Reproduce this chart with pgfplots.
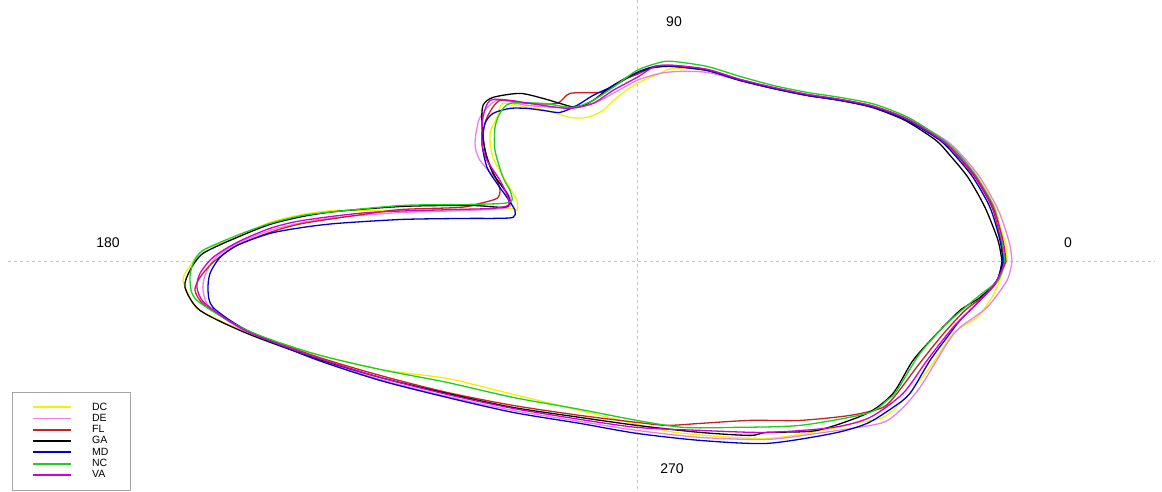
\documentclass[border=0pt]{standalone}
\usepackage{pgfplots}
\pgfplotsset{compat=1.18}
\usepackage{fontspec}
\setmainfont{Liberation Sans}
\definecolor{cDC}{RGB}{245,240,0}
\definecolor{cDE}{RGB}{230,130,230}
\definecolor{cFL}{RGB}{200,35,35}
\definecolor{cGA}{RGB}{0,0,0}
\definecolor{cMD}{RGB}{0,0,200}
\definecolor{cNC}{RGB}{30,205,30}
\definecolor{cVA}{RGB}{210,0,210}
\definecolor{gridgray}{RGB}{195,195,195}
\begin{document}
\begin{tikzpicture}
\begin{axis}[
  scale only axis, width=1162pt, height=491pt,
  xmin=0, xmax=1162, ymin=0, ymax=491, y dir=reverse,
  axis lines=none, clip=false,
  every axis plot/.append style={line width=1.3pt, smooth, tension=0.45},
  legend image code/.code={\draw[#1, line width=1.9pt] (0pt,0pt) -- (38pt,0pt);},
  legend cell align=left,
  legend style={at={(axis cs:12,490)}, anchor=south west, draw=gray!70,
    font=\fontsize{10.5}{10.5}\selectfont, inner xsep=20pt, inner ysep=9pt,
    row sep=-1.5pt, column sep=8pt,
    /tikz/every odd column/.style={column sep=18pt}},
]
\path (rel axis cs:0,0) rectangle (rel axis cs:1,1);
\draw[gridgray, dashed, dash pattern=on 3pt off 3pt, line width=0.8pt] (axis cs:8,261) -- (axis cs:1155,261);
\draw[gridgray, dashed, dash pattern=on 3pt off 3pt, line width=0.8pt] (axis cs:637,0) -- (axis cs:637,491);
\node[font=\fontsize{14}{14}\selectfont] at (axis cs:674,21) {90};
\node[font=\fontsize{14}{14}\selectfont] at (axis cs:672,468) {270};
\node[font=\fontsize{14}{14}\selectfont] at (axis cs:108,242) {180};
\node[font=\fontsize{14}{14}\selectfont] at (axis cs:1068,242) {0};

% DC
\addplot[cDC] coordinates {(1007,261)(1006,245)(1000,225)(995,207)(978,177)(960,155)(944,140)(910,119)(875,106)(840,99)(807,95)(773,88)(740,79)(707,70)(673,68)(660,73)(637,83)(617,97)(603,110)(587,117)(570,117)(547,110)(527,107)(503,103)(497,117)(490,133)(493,157)(507,183)(517,200)(517,210)(510,208)(460,209)(403,210)(337,210)(303,214)(270,222)(237,237)(203,250)(187,270)(183,280)(190,297)(200,310)(247,332)(313,353)(380,369)(447,378)(497,390)(530,398)(580,410)(637,424)(683,433)(767,438)(833,428)(853,423)(883,417)(903,400)(930,367)(953,333)(977,317)(990,300)(997,287)(1003,270)(1007,261)};
\addlegendentry{DC}
% DE
\addplot[cDE] coordinates {(1012,261)(1010,245)(1004,225)(997,207)(980,177)(962,155)(946,140)(911,120)(876,107)(840,100)(807,95)(773,88)(740,80)(707,72)(680,71)(660,73)(637,80)(613,93)(593,103)(560,107)(527,105)(497,100)(480,117)(475,143)(480,160)(500,183)(510,197)(508,207)(470,210)(403,212)(337,217)(303,222)(270,230)(237,243)(215,258)(205,275)(203,290)(210,307)(247,332)(313,357)(380,379)(447,396)(513,410)(580,421)(637,430)(700,437)(767,439)(817,433)(880,423)(900,410)(920,387)(947,343)(960,327)(987,307)(1007,280)(1012,261)};
\addlegendentry{DE}
% FL
\addplot[cFL] coordinates {(1004,261)(1001,240)(992,207)(975,177)(957,155)(942,140)(908,119)(874,106)(840,99)(807,94)(773,87)(740,79)(707,69)(673,65)(655,66)(637,74)(627,78)(610,88)(600,92)(570,93)(557,103)(527,103)(500,100)(487,117)(483,137)(488,160)(497,180)(500,190)(497,198)(480,203)(460,207)(403,209)(370,213)(303,223)(270,232)(237,245)(213,262)(200,277)(195,290)(205,305)(247,330)(313,355)(380,375)(447,392)(513,405)(580,415)(637,422)(667,425)(700,423)(750,420)(800,420)(850,415)(883,407)(897,393)(918,365)(942,335)(965,310)(985,295)(998,280)(1004,261)};
\addlegendentry{FL}
% GA
\addplot[cGA] coordinates {(1002,261)(998,240)(985,207)(968,177)(950,155)(936,140)(905,120)(872,107)(840,100)(807,95)(773,88)(740,80)(707,70)(673,66)(655,67)(643,70)(627,77)(610,87)(593,100)(577,107)(560,103)(543,98)(520,93)(493,97)(483,105)(482,123)(485,150)(493,173)(507,193)(510,203)(503,207)(470,205)(403,206)(337,211)(303,216)(270,224)(237,237)(203,253)(190,270)(185,287)(200,310)(247,333)(313,357)(380,377)(447,393)(513,407)(580,417)(637,425)(700,432)(750,435)(767,432)(817,430)(867,413)(893,393)(913,360)(937,333)(960,310)(980,297)(997,280)(1002,261)};
\addlegendentry{GA}
% MD
\addplot[cMD] coordinates {(1003,261)(1000,240)(990,207)(973,177)(955,155)(940,140)(907,120)(873,107)(840,100)(807,95)(773,88)(740,80)(707,70)(673,66)(655,66)(637,72)(610,87)(593,95)(577,105)(560,112)(543,110)(527,108)(510,108)(493,113)(485,123)(482,143)(487,167)(497,183)(507,197)(515,210)(513,217)(493,218)(470,218)(403,219)(337,223)(303,227)(270,233)(237,245)(220,257)(210,273)(208,290)(213,307)(247,330)(313,358)(380,380)(447,397)(513,412)(580,423)(637,433)(700,440)(767,443)(833,433)(867,423)(893,407)(910,393)(930,360)(947,337)(960,320)(980,300)(997,280)(1003,261)};
\addlegendentry{MD}
% NC
\addplot[cNC] coordinates {(1005,261)(1002,240)(994,207)(977,177)(960,155)(944,140)(910,118)(875,104)(840,97)(807,92)(773,85)(740,76)(707,66)(673,61)(660,62)(637,70)(613,87)(593,100)(573,107)(543,103)(510,103)(500,113)(495,127)(495,150)(503,177)(510,190)(512,200)(503,203)(470,204)(403,205)(337,211)(303,215)(270,223)(237,235)(203,250)(193,263)(190,280)(197,300)(247,330)(313,353)(380,369)(447,382)(513,397)(580,409)(637,420)(683,427)(733,427)(800,425)(867,413)(887,400)(897,390)(920,353)(947,323)(977,297)(998,280)(1005,261)};
\addlegendentry{NC}
% VA
\addplot[cVA] coordinates {(1006,261)(1003,240)(993,207)(976,177)(958,155)(942,140)(908,119)(874,106)(840,99)(807,94)(773,87)(740,79)(707,69)(673,65)(655,66)(637,77)(613,90)(593,103)(570,108)(543,105)(510,100)(490,100)(483,117)(482,143)(487,160)(500,180)(508,197)(508,205)(493,208)(460,209)(370,212)(303,220)(270,228)(237,242)(213,257)(200,273)(197,287)(205,303)(247,331)(313,356)(380,377)(447,394)(513,408)(580,419)(637,427)(700,430)(767,432)(833,427)(870,417)(903,393)(927,360)(953,327)(977,303)(995,283)(1006,261)};
\addlegendentry{VA}
\end{axis}
\end{tikzpicture}
\end{document}
